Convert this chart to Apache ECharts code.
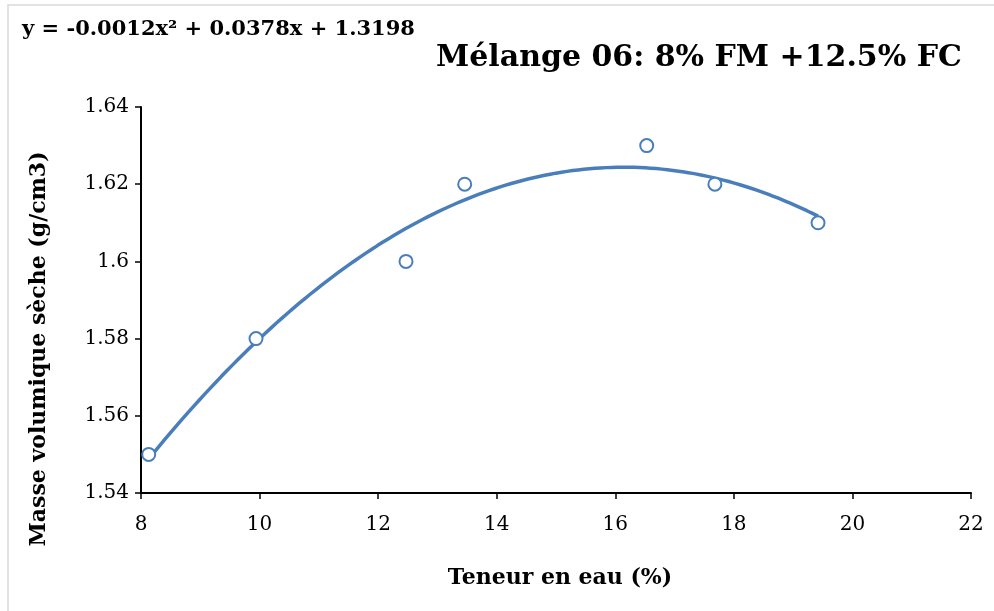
<!DOCTYPE html>
<html>
<head>
<meta charset="utf-8">
<style>
  html, body { margin: 0; padding: 0; background: #fff; }
  #chart { width: 994px; height: 611px; }
</style>
<script src="https://cdn.jsdelivr.net/npm/echarts@6/dist/echarts.min.js"></script>
</head>
<body>
<div id="chart"></div>
<script>
// Compaction test: water content (%) vs dry density (g/cm3)
const teneurEau = [8.13, 9.94, 12.47, 13.46, 16.53, 17.68, 19.42];
const masseVolumique = [1.55, 1.58, 1.60, 1.62, 1.63, 1.62, 1.61];
const xTicks = [8, 10, 12, 14, 16, 18, 20, 22];
const yTicks = [1.54, 1.56, 1.58, 1.60, 1.62, 1.64];
const titre = 'Mélange 06: 8% FM +12.5% FC';
const equation = 'y = -0.0012x² + 0.0378x + 1.3198';

// Least-squares quadratic fit through the measured points (polynomial trendline)
function fitQuadratic(xs, ys) {
  const n = xs.length;
  let s = [0, 0, 0, 0, 0], t = [0, 0, 0];
  for (let i = 0; i < n; i++) {
    const x = xs[i], y = ys[i];
    let p = 1;
    for (let k = 0; k < 5; k++) { s[k] += p; if (k < 3) t[k] += p * y; p *= x; }
  }
  // normal equations: [s0 s1 s2; s1 s2 s3; s2 s3 s4] [c b a] = [t0 t1 t2]
  const M = [[s[0], s[1], s[2], t[0]], [s[1], s[2], s[3], t[1]], [s[2], s[3], s[4], t[2]]];
  for (let i = 0; i < 3; i++) {
    for (let j = i + 1; j < 3; j++) {
      const f = M[j][i] / M[i][i];
      for (let k = i; k < 4; k++) M[j][k] -= f * M[i][k];
    }
  }
  const r = [0, 0, 0];
  for (let i = 2; i >= 0; i--) {
    let v = M[i][3];
    for (let k = i + 1; k < 3; k++) v -= M[i][k] * r[k];
    r[i] = v / M[i][i];
  }
  return { c: r[0], b: r[1], a: r[2] };
}

const fit = fitQuadratic(teneurEau, masseVolumique);
const xMin = Math.min(...teneurEau), xMax = Math.max(...teneurEau);
const trend = [];
for (let i = 0; i <= 120; i++) {
  const x = xMin + (xMax - xMin) * i / 120;
  trend.push([x, fit.a * x * x + fit.b * x + fit.c]);
}

const serif = '"DejaVu Serif", "Liberation Serif", serif';
const blue = '#4a7ebb';

const chart = echarts.init(document.getElementById('chart'));
chart.setOption({
  animation: false,
  backgroundColor: '#fff',
  grid: { left: 141, right: 23, top: 107, bottom: 118 },
  xAxis: {
    type: 'value',
    min: xTicks[0], max: xTicks[xTicks.length - 1], interval: 2,
    axisLine: { lineStyle: { color: '#000', width: 2 } },
    axisTick: { show: true, length: 6, lineStyle: { color: '#000', width: 1.5 } },
    splitLine: { show: false },
    axisLabel: { color: '#000', fontFamily: serif, fontSize: 20, margin: 22 }
  },
  yAxis: {
    type: 'value',
    min: yTicks[0], max: yTicks[yTicks.length - 1], interval: 0.02,
    axisLine: { show: true, lineStyle: { color: '#000', width: 2 } },
    axisTick: { show: true, length: 6, lineStyle: { color: '#000', width: 1.5 } },
    splitLine: { show: false },
    axisLabel: {
      color: '#000', fontFamily: serif, fontSize: 20, margin: 12,
      formatter: v => String(parseFloat(v.toFixed(2)))
    }
  },
  series: [
    {
      type: 'line',
      data: trend,
      showSymbol: false,
      smooth: false,
      lineStyle: { color: blue, width: 3.5 },
      z: 2
    },
    {
      type: 'scatter',
      data: teneurEau.map((x, i) => [x, masseVolumique[i]]),
      symbol: 'circle',
      symbolSize: 13,
      itemStyle: { color: '#fff', borderColor: blue, borderWidth: 2, opacity: 1 },
      z: 3
    }
  ],
  graphic: [
    {
      type: 'rect', silent: true, z: -1,
      shape: { x: 8, y: 5, width: 1000, height: 620 },
      style: { fill: 'none', stroke: '#d9d9d9', lineWidth: 1.5 }
    },
    {
      type: 'text', left: 22, top: 19,
      style: { text: equation, font: 'bold 21px ' + serif, fill: '#000' }
    },
    {
      type: 'text', left: 436, top: 43,
      style: { text: titre, font: 'bold 30px ' + serif, fill: '#000' }
    },
    {
      type: 'text', x: 39, y: 349, rotation: Math.PI / 2,
      style: {
        text: 'Masse volumique sèche (g/cm3)', font: 'bold 22px ' + serif,
        fill: '#000', align: 'center', verticalAlign: 'middle'
      }
    },
    {
      type: 'text', x: 560, y: 578,
      style: {
        text: 'Teneur en eau (%)', font: 'bold 22px ' + serif,
        fill: '#000', align: 'center', verticalAlign: 'middle'
      }
    }
  ]
});
</script>
</body>
</html>
